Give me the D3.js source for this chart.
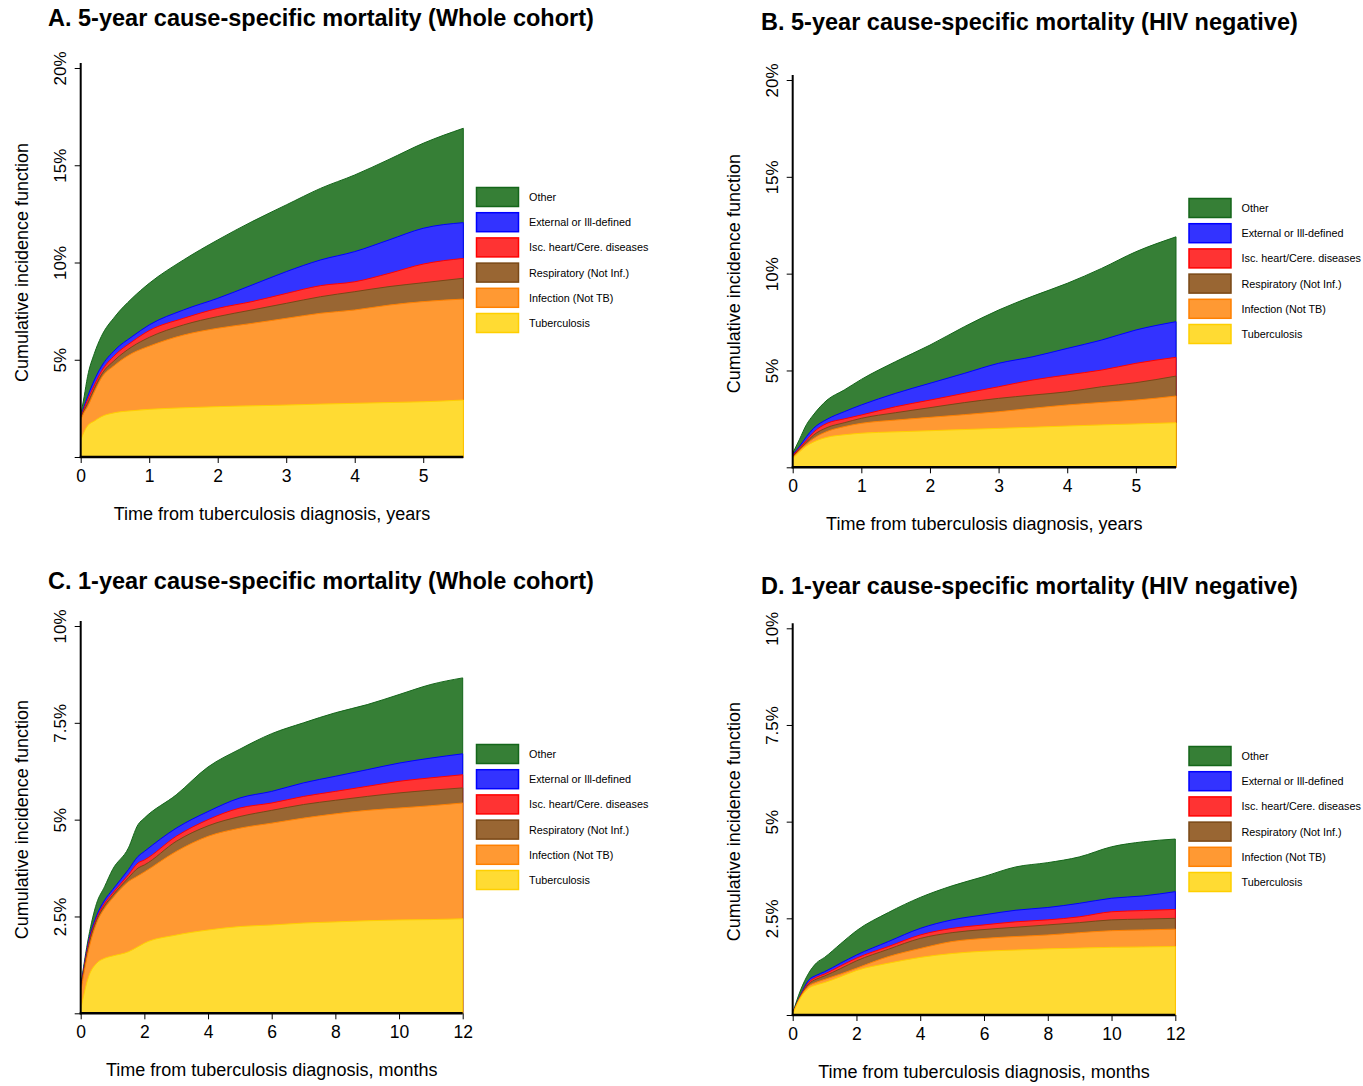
<!DOCTYPE html>
<html>
<head>
<meta charset="utf-8">
<script src="https://cdn.jsdelivr.net/npm/d3@7"></script>
<style>
  body { margin: 0; background: #fff; }
  svg { display: block; }
  text { font-family: "Liberation Sans", Arial, Helvetica, sans-serif; fill: #000; }
</style>
</head>
<body>
<svg width="1363" height="1086"></svg>
<script>
// legend order, top to bottom
const causes = ["Other", "External or Ill-defined", "Isc. heart/Cere. diseases",
                "Respiratory (Not Inf.)", "Infection (Not TB)", "Tuberculosis"]
const fills   = ["#367f36", "#3333ff", "#ff3333", "#996633", "#ff9933", "#ffdb33"]
const strokes = ["#14661a", "#0000ff", "#ff0000", "#7a4816", "#ff8000", "#ffcf00"]

// cumulative (stacked) incidence in %, rows: TB, +Infection, +Respiratory, +Isc, +External, +Other
const yearsA = [0, 0.05, 0.1, 0.2, 0.3, 0.5, 0.75, 1, 1.5, 2, 2.5, 3, 3.5, 4, 4.5, 5, 5.585]
const cifA = [
  [0.85, 1.3, 1.6, 1.85, 2.07, 2.28, 2.38, 2.45, 2.53, 2.59, 2.63, 2.67, 2.72, 2.76, 2.8, 2.84, 2.93],
  [1.9, 2.3, 2.59, 3.36, 4.05, 4.73, 5.33, 5.7, 6.27, 6.62, 6.87, 7.13, 7.39, 7.56, 7.81, 7.99, 8.12],
  [1.95, 2.4, 2.76, 3.53, 4.22, 4.99, 5.67, 6.15, 6.79, 7.22, 7.56, 7.9, 8.24, 8.5, 8.76, 8.96, 9.19],
  [2.0, 2.5, 2.93, 3.7, 4.39, 5.24, 5.93, 6.5, 7.13, 7.64, 7.99, 8.41, 8.81, 9.01, 9.44, 9.92, 10.21],
  [2.05, 2.6, 3.1, 3.96, 4.64, 5.5, 6.19, 6.79, 7.56, 8.16, 8.84, 9.53, 10.13, 10.56, 11.16, 11.76, 12.05],
  [2.15, 3.1, 4.13, 5.33, 6.19, 7.22, 8.16, 8.93, 10.13, 11.16, 12.1, 12.96, 13.81, 14.5, 15.3, 16.13, 16.9]
]
const yearsB = [0, 0.1, 0.2, 0.3, 0.5, 0.75, 1, 1.5, 2, 2.5, 3, 3.5, 4, 4.5, 5, 5.585]
const cifB = [
  [0.45, 0.8, 1.1, 1.3, 1.55, 1.68, 1.76, 1.83, 1.89, 1.95, 2.01, 2.07, 2.13, 2.19, 2.24, 2.3],
  [0.5, 0.88, 1.2, 1.48, 1.85, 2.1, 2.27, 2.44, 2.58, 2.72, 2.87, 3.05, 3.22, 3.35, 3.47, 3.68],
  [0.55, 0.94, 1.3, 1.65, 2.05, 2.3, 2.53, 2.82, 3.08, 3.34, 3.56, 3.73, 3.9, 4.16, 4.37, 4.71],
  [0.6, 1.0, 1.4, 1.8, 2.27, 2.5, 2.7, 3.13, 3.47, 3.82, 4.16, 4.51, 4.77, 5.02, 5.37, 5.68],
  [0.65, 1.08, 1.58, 2.0, 2.48, 2.87, 3.22, 3.82, 4.34, 4.85, 5.37, 5.71, 6.14, 6.57, 7.09, 7.52],
  [0.72, 1.45, 2.2, 2.7, 3.47, 3.99, 4.54, 5.46, 6.31, 7.26, 8.12, 8.84, 9.5, 10.27, 11.13, 11.9]
]
const monthsC = [0, 0.25, 0.5, 0.75, 1, 1.5, 1.8, 2, 3, 4, 5, 6, 7, 8, 9, 10, 11, 12]
const cifC = [
  [0.1, 0.95, 1.29, 1.42, 1.48, 1.59, 1.72, 1.81, 2.02, 2.15, 2.24, 2.28, 2.33, 2.36, 2.39, 2.41, 2.42, 2.44],
  [0.55, 1.64, 2.33, 2.71, 2.97, 3.4, 3.55, 3.65, 4.18, 4.57, 4.78, 4.91, 5.04, 5.15, 5.24, 5.3, 5.36, 5.43],
  [0.6, 1.75, 2.4, 2.78, 3.04, 3.5, 3.75, 3.83, 4.44, 4.84, 5.08, 5.24, 5.39, 5.5, 5.6, 5.69, 5.76, 5.82],
  [0.62, 1.8, 2.45, 2.84, 3.1, 3.58, 3.88, 3.96, 4.57, 5.0, 5.3, 5.43, 5.6, 5.73, 5.86, 5.99, 6.08, 6.16],
  [0.65, 1.86, 2.52, 2.92, 3.19, 3.71, 4.05, 4.18, 4.78, 5.21, 5.56, 5.73, 5.95, 6.12, 6.29, 6.46, 6.59, 6.7],
  [0.7, 1.98, 2.84, 3.27, 3.71, 4.27, 4.87, 5.04, 5.64, 6.36, 6.82, 7.22, 7.5, 7.76, 7.97, 8.23, 8.49, 8.66]
]
const monthsD = [0, 0.25, 0.5, 0.75, 1, 1.5, 2, 3, 4, 5, 6, 7, 8, 9, 10, 11, 12]
const cifD = [
  [0.02, 0.45, 0.69, 0.78, 0.84, 0.99, 1.15, 1.34, 1.49, 1.59, 1.65, 1.68, 1.71, 1.73, 1.75, 1.76, 1.77],
  [0.03, 0.48, 0.75, 0.85, 0.92, 1.06, 1.21, 1.51, 1.72, 1.9, 1.98, 2.03, 2.07, 2.13, 2.18, 2.2, 2.22],
  [0.03, 0.49, 0.8, 0.93, 1.01, 1.2, 1.4, 1.7, 1.98, 2.13, 2.21, 2.27, 2.33, 2.39, 2.46, 2.48, 2.5],
  [0.04, 0.5, 0.84, 0.98, 1.06, 1.27, 1.47, 1.77, 2.07, 2.24, 2.33, 2.41, 2.46, 2.54, 2.67, 2.7, 2.73],
  [0.04, 0.52, 0.9, 1.03, 1.12, 1.34, 1.55, 1.9, 2.24, 2.46, 2.59, 2.71, 2.78, 2.89, 3.02, 3.08, 3.19],
  [0.05, 0.65, 1.08, 1.35, 1.49, 1.84, 2.18, 2.65, 3.04, 3.34, 3.58, 3.83, 3.94, 4.09, 4.35, 4.48, 4.55]
]

const titles = ["A. 5-year cause-specific mortality (Whole cohort)",
                "B. 5-year cause-specific mortality (HIV negative)",
                "C. 1-year cause-specific mortality (Whole cohort)",
                "D. 1-year cause-specific mortality (HIV negative)"]
const yTicks5 = [0, 5, 10, 15, 20]
const yTicks1 = [0, 2.5, 5, 7.5, 10]
const xTicksYears = [0, 1, 2, 3, 4, 5]
const xTicksMonths = [0, 2, 4, 6, 8, 10, 12]

// layout of each panel (pixels)
const panels = [
  {title: titles[0], t: yearsA, cif: cifA, tMax: 5.585, yMax: 20, yTicks: yTicks5, xTicks: xTicksYears,
   unit: "years", left: 80.7, right: 463.3, bottom: 457, top: 68, titleX: 48, titleY: 26, legX: 476, legY: 187},
  {title: titles[1], t: yearsB, cif: cifB, tMax: 5.585, yMax: 20, yTicks: yTicks5, xTicks: xTicksYears,
   unit: "years", left: 792.7, right: 1176, bottom: 467.3, top: 80, titleX: 761, titleY: 30, legX: 1188.5, legY: 198},
  {title: titles[2], t: monthsC, cif: cifC, tMax: 12, yMax: 10, yTicks: yTicks1, xTicks: xTicksMonths,
   unit: "months", left: 80.7, right: 462.7, bottom: 1013.3, top: 626, titleX: 48, titleY: 589, legX: 476, legY: 744},
  {title: titles[3], t: monthsD, cif: cifD, tMax: 12, yMax: 10, yTicks: yTicks1, xTicks: xTicksMonths,
   unit: "months", left: 792.7, right: 1175.3, bottom: 1015, top: 628.3, titleX: 761, titleY: 594, legX: 1188.5, legY: 746}
]

const svg = d3.select("svg")

panels.forEach(p => {
  const g = svg.append("g")
  const x = d3.scaleLinear().domain([0, p.tMax]).range([p.left, p.right])
  const y = d3.scaleLinear().domain([0, p.yMax]).range([p.bottom, p.top])

  // each layer filled down to 0, largest first, so the smaller ones sit on top
  const area = d3.area()
    .x((d, i) => x(p.t[i]))
    .y0(y(0))
    .y1(d => y(d))
    .curve(d3.curveMonotoneX)

  const layers = p.cif.slice().reverse()   // Other ... TB
  g.selectAll("path.layer")
    .data(layers)
    .enter()
    .append("path")
      .attr("class", "layer")
      .attr("d", d => area(d))
      .attr("fill", (d, i) => fills[i])
      .attr("stroke", (d, i) => strokes[i])
      .attr("stroke-width", 1)

  // y axis, labels turned sideways like base R
  const yAxis = d3.axisLeft(y)
    .tickValues(p.yTicks)
    .tickSize(6)
    .tickFormat(d => d === 0 ? "" : d + "%")
  const ya = g.append("g")
    .attr("transform", `translate(${p.left}, 0)`)
    .call(yAxis)
  ya.select(".domain").remove()
  ya.selectAll("text")
    .attr("x", 0).attr("dy", 0)
    .attr("text-anchor", "middle")
    .attr("transform", "translate(-14.5, 0) rotate(-90)")
    .style("font-size", "17px")
    .style("font-family", null)

  // x axis
  const xAxis = d3.axisBottom(x)
    .tickValues(p.xTicks)
    .tickSize(6)
    .tickFormat(d3.format("d"))
  const xa = g.append("g")
    .attr("transform", `translate(0, ${p.bottom})`)
    .call(xAxis)
  xa.select(".domain").remove()
  xa.selectAll("text")
    .attr("y", 25).attr("dy", 0)
    .style("font-size", "17.5px")
    .style("font-family", null)

  // heavy axis lines
  g.append("line")
    .attr("x1", p.left).attr("x2", p.left)
    .attr("y1", p.top - 5).attr("y2", p.bottom + 1)
    .attr("stroke", "#000").attr("stroke-width", 2)
  g.append("line")
    .attr("x1", p.left - 1).attr("x2", p.right)
    .attr("y1", p.bottom).attr("y2", p.bottom)
    .attr("stroke", "#000").attr("stroke-width", 2.5)

  // axis titles
  g.append("text")
    .attr("transform", `translate(${p.left - 52.5}, ${(p.top + p.bottom) / 2}) rotate(-90)`)
    .attr("text-anchor", "middle")
    .style("font-size", "18px")
    .text("Cumulative incidence function")
  g.append("text")
    .attr("x", (p.left + p.right) / 2)
    .attr("y", p.bottom + 63)
    .attr("text-anchor", "middle")
    .style("font-size", "18px")
    .text("Time from tuberculosis diagnosis, " + p.unit)

  // panel title
  g.append("text")
    .attr("x", p.titleX).attr("y", p.titleY)
    .style("font-size", "23.5px")
    .style("font-weight", "bold")
    .text(p.title)

  // legend
  const leg = g.selectAll("g.leg")
    .data(causes)
    .enter()
    .append("g")
      .attr("class", "leg")
      .attr("transform", (d, i) => `translate(${p.legX}, ${p.legY + i * 25.2})`)
  leg.append("rect")
    .attr("x", 0.5).attr("y", 0.5)
    .attr("width", 42).attr("height", 19)
    .attr("fill", (d, i) => fills[i])
    .attr("stroke", (d, i) => strokes[i])
    .attr("stroke-width", 1.5)
  leg.append("text")
    .attr("x", 53).attr("y", 14)
    .style("font-size", "10.8px")
    .text(d => d)
})
</script>
</body>
</html>
